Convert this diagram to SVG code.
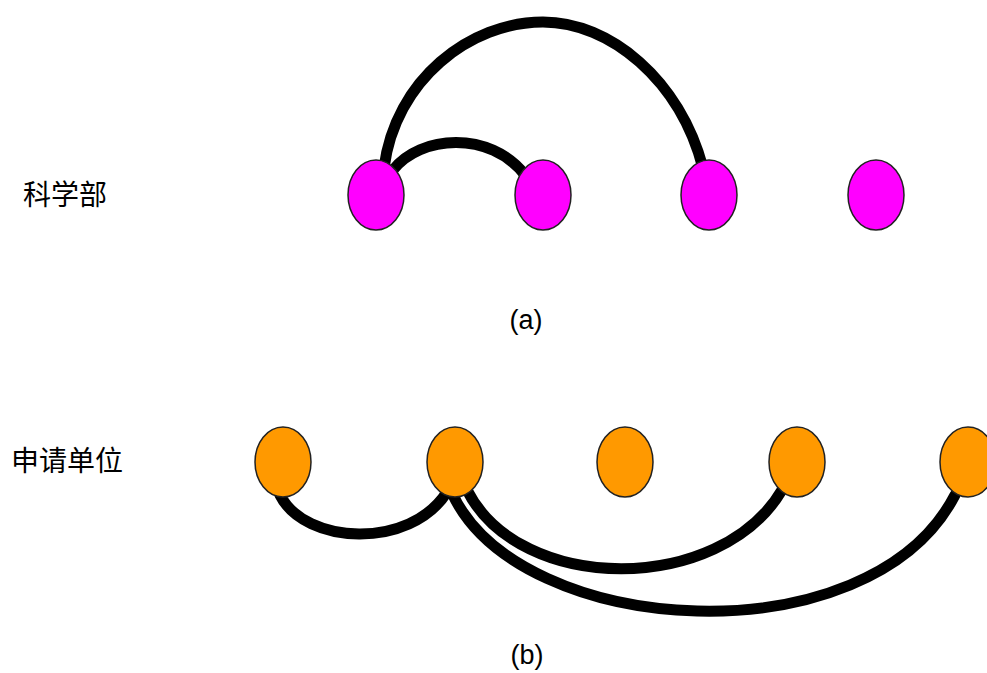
<svg xmlns="http://www.w3.org/2000/svg" width="987" height="673" viewBox="0 0 987 673">
<style>
.bg{fill:#ffffff}
.edge{fill:none;stroke:#000000;stroke-width:11;stroke-linecap:round}
.mag{fill:#ff00ff;stroke:#222222;stroke-width:1.5}
.org{fill:#ff9900;stroke:#222222;stroke-width:1.5}
.lbl{font-family:"Liberation Sans","Noto Sans CJK SC",sans-serif;font-size:28px;fill:#000000}
.cap{font-family:"Liberation Sans",Arial,sans-serif;font-size:27px;fill:#000000;text-anchor:middle}
</style>
<rect class="bg" x="0" y="0" width="987" height="673"/>
<g id="connectors">
<path class="edge" d="M384,168 C395,80 470,22 543,22 C610,22 680,80 703,168"/>
<path class="edge" d="M393,170 C420,135 490,130 525,175"/>
<path class="edge" d="M280,495 C305,545 410,550 447,492"/>
<path class="edge" d="M467,490 C520,595 720,595 782,490"/>
<path class="edge" d="M452,493 C520,640 870,660 955,495"/>
</g>
<g id="label-a"><text class="lbl" x="23" y="205">科学部</text></g>
<g id="label-b"><text class="lbl" x="11" y="471">申请单位</text></g>
<g id="a1"><ellipse class="mag" cx="376" cy="195" rx="28" ry="35"/></g>
<g id="a2"><ellipse class="mag" cx="543" cy="195" rx="28" ry="35"/></g>
<g id="a3"><ellipse class="mag" cx="709" cy="195" rx="28" ry="35"/></g>
<g id="a4"><ellipse class="mag" cx="876" cy="195" rx="28" ry="35"/></g>
<g id="b1"><ellipse class="org" cx="283" cy="462" rx="28" ry="35"/></g>
<g id="b2"><ellipse class="org" cx="455" cy="462" rx="28" ry="35"/></g>
<g id="b3"><ellipse class="org" cx="625" cy="462" rx="28" ry="35"/></g>
<g id="b4"><ellipse class="org" cx="797" cy="462" rx="28" ry="35"/></g>
<g id="b5"><ellipse class="org" cx="968" cy="462" rx="28" ry="35"/></g>
<g id="caption-a"><text class="cap" x="526" y="329">(a)</text></g>
<g id="caption-b"><text class="cap" x="527" y="664">(b)</text></g>
</svg>
